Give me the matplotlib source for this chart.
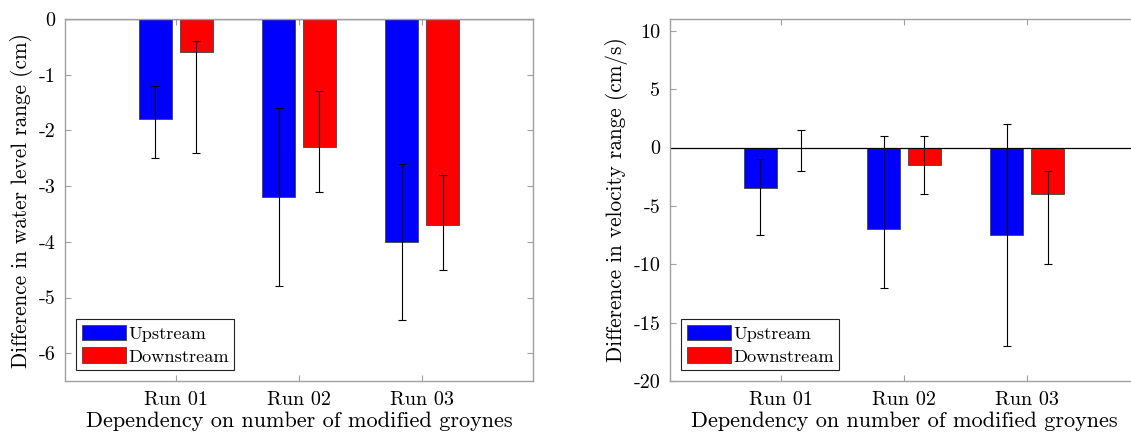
import numpy as np
import matplotlib
matplotlib.use('Agg')
from matplotlib import pyplot as plt

plt.rcParams['font.family'] = 'cmr10'
plt.rcParams['axes.unicode_minus'] = False
plt.rcParams['mathtext.fontset'] = 'cm'

runs = ['Run 01', 'Run 02', 'Run 03']
series = ['Upstream', 'Downstream']

# water level range (cm)
wl_up = [-1.8, -3.2, -4.0]
wl_up_lo = [-2.5, -4.8, -5.4]
wl_up_hi = [-1.2, -1.6, -2.6]
wl_down = [-0.6, -2.3, -3.7]
wl_down_lo = [-2.4, -3.1, -4.5]
wl_down_hi = [-0.4, -1.3, -2.8]

# velocity range (cm/s)
v_up = [-3.5, -7.0, -7.5]
v_up_lo = [-7.5, -12.0, -17.0]
v_up_hi = [-1.0, 1.0, 2.0]
v_down = [0.0, -1.5, -4.0]
v_down_lo = [-2.0, -4.0, -10.0]
v_down_hi = [1.5, 1.0, -2.0]

wl_ticks = [-6, -5, -4, -3, -2, -1, 0]
v_ticks = [-20, -15, -10, -5, 0, 5, 10]

boxcol = '#a0a0a0'


def tekna(ax, up, up_lo, up_hi, down, down_lo, down_hi, ylim, yticks, ylabel):
    x = np.arange(1, len(runs) + 1)
    w = 0.267
    off = 0.166
    vals = [(up, up_lo, up_hi, 'blue'), (down, down_lo, down_hi, 'red')]
    for i, (v, lo, hi, c) in enumerate(vals):
        v = np.array(v)
        xx = x + (2 * i - 1) * off
        ax.bar(xx, v, w, color=c, edgecolor='#444444', linewidth=0.6,
               label=series[i], zorder=2)
        err = np.vstack([v - np.array(lo), np.array(hi) - v])
        ax.errorbar(xx, v, yerr=err, fmt='none', ecolor='black',
                    elinewidth=0.8, capsize=3, capthick=0.8, zorder=3)
    ax.axhline(0, color='black', linewidth=0.9, zorder=2.2)
    ax.set_xlim(0.1, 3.9)
    ax.set_ylim(*ylim)
    ax.set_xticks(x)
    ax.set_xticklabels(runs)
    ax.set_yticks(yticks)
    ax.set_yticklabels([str(t) for t in yticks])
    ax.tick_params(direction='in', top=True, right=True, length=4,
                   color=boxcol, labelsize=14.5, pad=7)
    for s in ax.spines.values():
        s.set_color(boxcol)
        s.set_linewidth(1.0)
        s.set_zorder(4)
    ax.set_xlabel('Dependency on number of modified groynes', fontsize=16, labelpad=2)
    ax.set_ylabel(ylabel, fontsize=15.3, labelpad=4)
    leg = ax.legend(loc='lower left', fontsize=13.2, fancybox=False,
                    framealpha=1, edgecolor='#222222', handlelength=2.4,
                    handleheight=0.93, handletextpad=0.15, borderpad=0.3,
                    labelspacing=0.3, borderaxespad=0.6)
    leg.get_frame().set_linewidth(0.8)
    leg.set_zorder(5)


fig = plt.figure(figsize=(11.31, 4.37), dpi=100)
ax1 = fig.add_axes([0.0575, 0.128, 0.4138, 0.8284])
ax2 = fig.add_axes([0.5924, 0.128, 0.4138, 0.8284])

tekna(ax1, wl_up, wl_up_lo, wl_up_hi, wl_down, wl_down_lo, wl_down_hi,
      (-6.5, 0), wl_ticks, 'Difference in water level range (cm)')
tekna(ax2, v_up, v_up_lo, v_up_hi, v_down, v_down_lo, v_down_hi,
      (-20, 11), v_ticks, 'Difference in velocity range (cm/s)')

fig.savefig('out.png', dpi=100)
